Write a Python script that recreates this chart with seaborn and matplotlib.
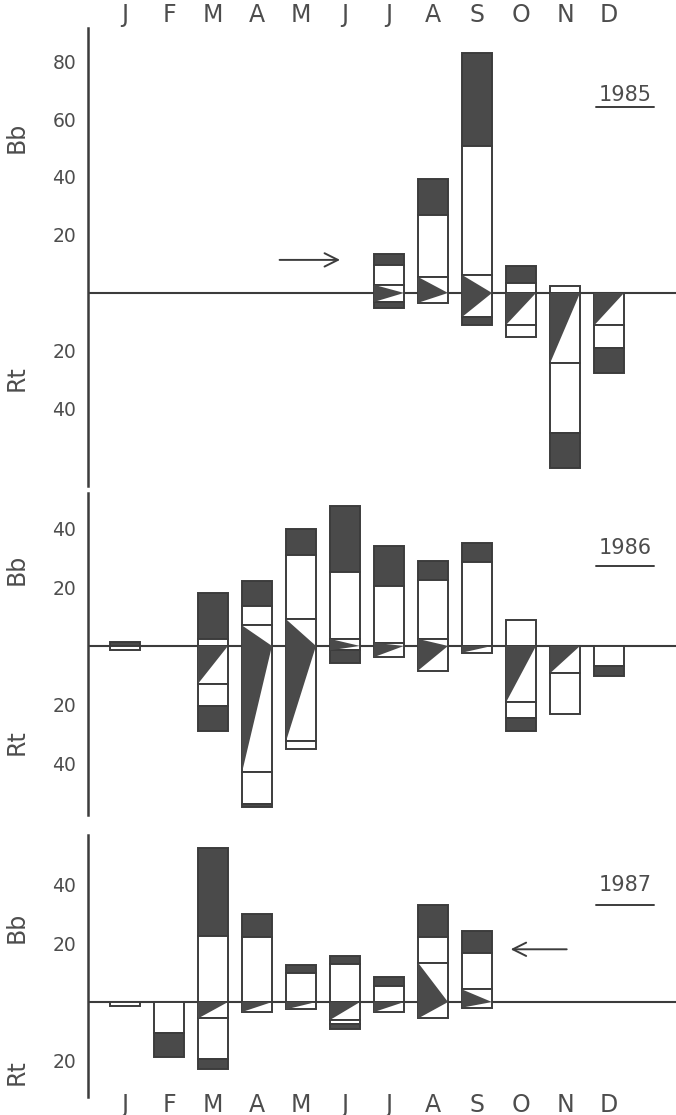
import matplotlib
matplotlib.use("Agg")
import matplotlib.pyplot as plt
import seaborn as sns

# ── Data ─────────────────────────────────────────────────────────────────────
# Each bar is a stack of segments read top -> bottom.  "edges" are the segment
# boundaries, "fills" one letter per segment: d = dark, w = white,
# t = split by a dark wedge pointing at the zero line.

MONTH_NAMES = ["Jan", "Feb", "Mar", "Apr", "May", "Jun",
               "Jul", "Aug", "Sep", "Oct", "Nov", "Dec"]
MONTH_LETTERS = ["J", "F", "M", "A", "M", "J", "J", "A", "S", "O", "N", "D"]

months_1985 = ["Jul", "Aug", "Sep", "Oct", "Nov", "Dec"]
edges_1985 = [
    [13.4, 9.7, 2.8, -3.1, -5.2],
    [39.3, 26.9, 5.5, -3.4],
    [82.8, 50.7, 6.2, -8.3, -11.0],
    [9.3, 3.4, 0.0, -11.0, -15.2],
    [2.4, 0.0, -24.2, -48.3, -60.3],
    [0.0, -11.2, -19.0, -27.6],
]
fills_1985 = ["dwtd", "dwt", "dwtd", "dwtw", "wtwd", "twd"]

months_1986 = ["Jan", "Mar", "Apr", "May", "Jun", "Jul",
               "Aug", "Sep", "Oct", "Nov", "Dec"]
edges_1986 = [
    [1.2, 0.0, -1.4],
    [18.0, 2.4, 0.0, -12.9, -20.6, -28.9],
    [22.3, 13.5, 7.0, -43.1, -53.9, -55.0],
    [40.0, 31.2, 9.1, -32.5, -35.2],
    [47.7, 25.4, 2.4, -1.5, -5.7],
    [34.0, 20.4, 1.1, -3.8],
    [29.1, 22.6, 2.4, -8.4],
    [35.0, 28.8, 0.0, -2.3],
    [8.9, 0.0, -19.2, -24.5, -29.1],
    [0.0, -9.3, -23.1],
    [0.0, -6.7, -10.4],
]
fills_1986 = ["dw", "dwtwd", "dwtwd", "dwtw", "dwtd", "dwt",
              "dwt", "dwt", "wtwd", "tw", "wd"]

months_1987 = ["Jan", "Feb", "Mar", "Apr", "May", "Jun",
               "Jul", "Aug", "Sep"]
edges_1987 = [
    [0.0, -1.3],
    [0.0, -10.6, -18.8],
    [52.7, 22.4, 0.0, -5.6, -19.4, -22.8],
    [30.0, 22.2, 0.0, -3.4],
    [12.8, 10.0, 0.0, -2.5],
    [15.8, 13.0, 0.0, -6.1, -7.6, -9.3],
    [8.6, 5.4, 0.0, -3.4],
    [33.1, 22.2, 13.4, -5.6],
    [24.1, 16.8, 4.3, -1.9],
]
fills_1987 = ["w", "wd", "dwtwd", "dwt", "dwt", "dwtwd", "dwt", "dwt", "dwt"]

years = ["1985", "1986", "1987"]
yticks = [[-40, -20, 20, 40, 60, 80], [-40, -20, 20, 40], [-20, 20, 40]]

# ── Style ────────────────────────────────────────────────────────────────────
sns.set_theme(style="white")
plt.rcParams["font.family"] = ["DejaVu Sans"]

DARK = "#4a4a4a"
INK = "#3c3c3c"
TEXT = "#4d4d4d"
BAR_W = 0.68
EDGE_LW = 1.4

FIG_W, FIG_H = 676, 1115
AX_LEFT = 88
panel_px = [(28, 486), (493, 815), (835, 1097)]
ylims = [(-66.6, 91.4), (-57.7, 52.2), (-32.4, 57.0)]
year_pos = [(0.913, 0.854, 0.8275), (0.913, 0.829, 0.773), (0.913, 0.809, 0.733)]
label_y = [(137, 378), (569, 742), (927, 1072)]


def draw_bars(ax, months, edges, fills):
    for name, edge, fill in zip(months, edges, fills):
        x = MONTH_NAMES.index(name)
        for hi, lo, kind in zip(edge[:-1], edge[1:], fill):
            face = DARK if kind == "d" else "white"
            ax.bar(x, hi - lo, bottom=lo, width=BAR_W, color=face,
                   edgecolor=INK, linewidth=EDGE_LW, zorder=3)
            if kind == "t":
                left, right = x - BAR_W / 2, x + BAR_W / 2
                ax.fill([left, right, left], [hi, 0, lo],
                        color=DARK, lw=0, zorder=4)


fig = plt.figure(figsize=(FIG_W / 100, FIG_H / 100), dpi=100)
axes = []
for i, (top, bottom) in enumerate(panel_px):
    ax = fig.add_axes([AX_LEFT / FIG_W, 1 - bottom / FIG_H,
                       (FIG_W - AX_LEFT) / FIG_W, (bottom - top) / FIG_H])
    axes.append(ax)
    ax.set_xlim(-0.84, 12.52)
    ax.set_ylim(*ylims[i])
    ax.axhline(0, color=INK, lw=1.5, zorder=1)
    sns.despine(ax=ax, top=True, right=True, bottom=True)
    ax.spines["left"].set_color(INK)
    ax.spines["left"].set_linewidth(1.8)
    ax.set_yticks(yticks[i])
    ax.set_yticklabels([str(abs(t)) for t in yticks[i]])
    ax.tick_params(axis="y", direction="out", length=7, width=1.4,
                   color=INK, pad=1.5, labelsize=13.5, labelcolor=TEXT)
    ax.set_xticks([])

    # year tag, underlined
    tx, ty, uy = year_pos[i]
    ax.text(tx, ty, years[i], transform=ax.transAxes, ha="center",
            va="center", fontsize=15, color=TEXT)
    ax.plot([tx - 0.049, tx + 0.049], [uy, uy], transform=ax.transAxes,
            color=INK, lw=1.4, clip_on=False)

    # axis names
    fig.text(17 / FIG_W, 1 - label_y[i][0] / FIG_H, "Bb", rotation=90,
             ha="center", va="center", fontsize=17, color=TEXT)
    fig.text(17 / FIG_W, 1 - label_y[i][1] / FIG_H, "Rt", rotation=90,
             ha="center", va="center", fontsize=17, color=TEXT)

draw_bars(axes[0], months_1985, edges_1985, fills_1985)
draw_bars(axes[1], months_1986, edges_1986, fills_1986)
draw_bars(axes[2], months_1987, edges_1987, fills_1987)

# month letters above the first panel and below the last one
axes[0].xaxis.tick_top()
axes[0].set_xticks(range(12))
axes[0].set_xticklabels(MONTH_LETTERS)
axes[0].tick_params(axis="x", length=0, pad=1, labelsize=17, labelcolor=TEXT)
axes[2].set_xticks(range(12))
axes[2].set_xticklabels(MONTH_LETTERS)
axes[2].tick_params(axis="x", length=0, pad=-3, labelsize=17, labelcolor=TEXT)

# arrows
axes[0].annotate("", xy=(4.95, 11.4), xytext=(3.45, 11.4),
                 arrowprops=dict(arrowstyle="->", lw=1.4, color=INK,
                                 mutation_scale=24))
axes[2].annotate("", xy=(8.7, 18.0), xytext=(10.1, 18.0),
                 arrowprops=dict(arrowstyle="->", lw=1.4, color=INK,
                                 mutation_scale=24))

fig.savefig("out.png", dpi=100)
